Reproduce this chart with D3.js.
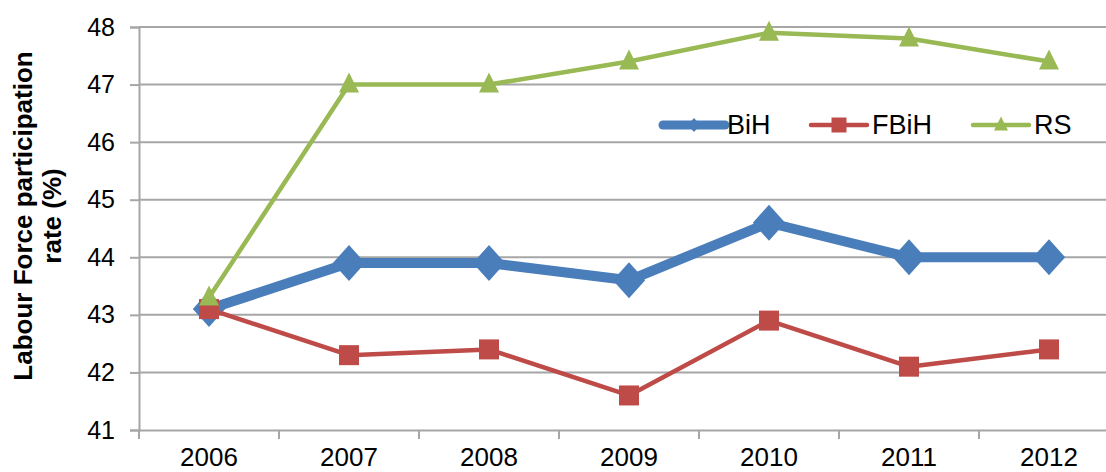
<!DOCTYPE html>
<html><head><meta charset="utf-8">
<script src="https://cdn.jsdelivr.net/npm/d3@7"></script>
<style>
html,body{margin:0;padding:0;background:#fff;overflow:hidden}
text{font-family:"Liberation Sans",Arial,sans-serif;fill:#000}
</style></head>
<body><svg id="c" width="1106" height="472"></svg>
<script>
const years = ["2006","2007","2008","2009","2010","2011","2012"];
const bih  = [43.1, 43.9, 43.9, 43.6, 44.6, 44.0, 44.0];
const fbih = [43.1, 42.3, 42.4, 41.6, 42.9, 42.1, 42.4];
const rs   = [43.3, 47.0, 47.0, 47.4, 47.9, 47.8, 47.4];
const yTicks = [41,42,43,44,45,46,47,48];
const seriesNames = ["BiH","FBiH","RS"];

const svg = d3.select("#c");
const x = d3.scaleBand().domain(years).range([139,1119]);
const y = d3.scaleLinear().domain([41,48]).range([430,27]);
const gridCol = "#a6a6a6";

// gridlines
svg.append("g").selectAll("line").data(yTicks.slice(1)).join("line")
  .attr("x1",139).attr("x2",1119).attr("y1",d=>y(d)).attr("y2",d=>y(d))
  .attr("stroke",gridCol).attr("stroke-width",2);

// y axis
const ya = svg.append("g").attr("transform","translate(139,0)")
  .call(d3.axisLeft(y).tickValues(yTicks).tickSize(9).tickPadding(15).tickFormat(d3.format("d")));
ya.select(".domain").attr("stroke",gridCol).attr("stroke-width",2);
ya.selectAll(".tick line").attr("stroke",gridCol).attr("stroke-width",2);
ya.selectAll("text").style("font-size","25px").attr("font-family",null);

// x axis
const xa = svg.append("g").attr("transform","translate(0,430)")
  .call(d3.axisBottom(x).tickSize(0).tickPadding(0));
xa.select(".domain").attr("stroke",gridCol).attr("stroke-width",2);
xa.selectAll(".tick text").attr("y",36).attr("dy",null).style("font-size","26px").attr("font-family",null);
// boundary ticks
svg.append("g").selectAll("line").data(years).join("line")
  .attr("x1",d=>x(d)).attr("x2",d=>x(d)).attr("y1",430).attr("y2",439)
  .attr("stroke",gridCol).attr("stroke-width",2);

// y title
const yt = svg.append("text").attr("transform","translate(32,216) rotate(-90)")
  .attr("text-anchor","middle").style("font-size","26px").style("font-weight","bold");
yt.append("tspan").attr("x",0).attr("dy",0).text("Labour Force participation");
yt.append("tspan").attr("x",0).attr("dy",29).text("rate (%)");

const diamond = {draw(ctx,size){const w=Math.sqrt(size)/2*0.9,h=Math.sqrt(size)/2;ctx.moveTo(0,-h);ctx.lineTo(w,0);ctx.lineTo(0,h);ctx.lineTo(-w,0);ctx.closePath();}};
const triangle = {draw(ctx,size){const s=Math.sqrt(size);ctx.moveTo(0,-s*0.6);ctx.lineTo(s/2,s*0.4);ctx.lineTo(-s/2,s*0.4);ctx.closePath();}};
const series = [
  {name:"BiH", vals:bih, color:"#4a7ebb", width:10, sym:diamond, size:36*36, lsize:14*14},
  {name:"FBiH", vals:fbih, color:"#be4b48", width:4.5, sym:d3.symbolSquare, size:20*20, lsize:15*15},
  {name:"RS", vals:rs, color:"#98b954", width:4.5, sym:triangle, size:20*20, lsize:14*14}
];
const line = d3.line().x((d,i)=>x(years[i])+x.bandwidth()/2).y(d=>y(d));
series.forEach(s=>{
  const g = svg.append("g");
  g.append("path").datum(s.vals).attr("d",line).attr("fill","none")
    .attr("stroke",s.color).attr("stroke-width",s.width).attr("stroke-linejoin","round");
  g.selectAll("path.m").data(s.vals).join("path").attr("class","m")
    .attr("transform",(d,i)=>`translate(${x(years[i])+x.bandwidth()/2},${y(d)})`)
    .attr("d",d3.symbol().type(s.sym).size(s.size)).attr("fill",s.color);
});

// legend
const legX = [663, 811, 973];
const lg = svg.append("g");
series.forEach((s,i)=>{
  const g = lg.append("g").attr("transform",`translate(${legX[i]},125)`);
  g.append("line").attr("x1",0).attr("x2",i===0?62:56).attr("y1",0).attr("y2",0)
    .attr("stroke",s.color).attr("stroke-width",i===0?9:4.5).attr("stroke-linecap","round");
  g.append("path").attr("transform",`translate(${(i===0?62:56)/2},0)`)
    .attr("d",d3.symbol().type(s.sym).size(s.lsize)).attr("fill",s.color);
  g.append("text").attr("x",(i===0?64:61)).attr("y",9).style("font-size","27px").text(s.name);
});
</script></body></html>
